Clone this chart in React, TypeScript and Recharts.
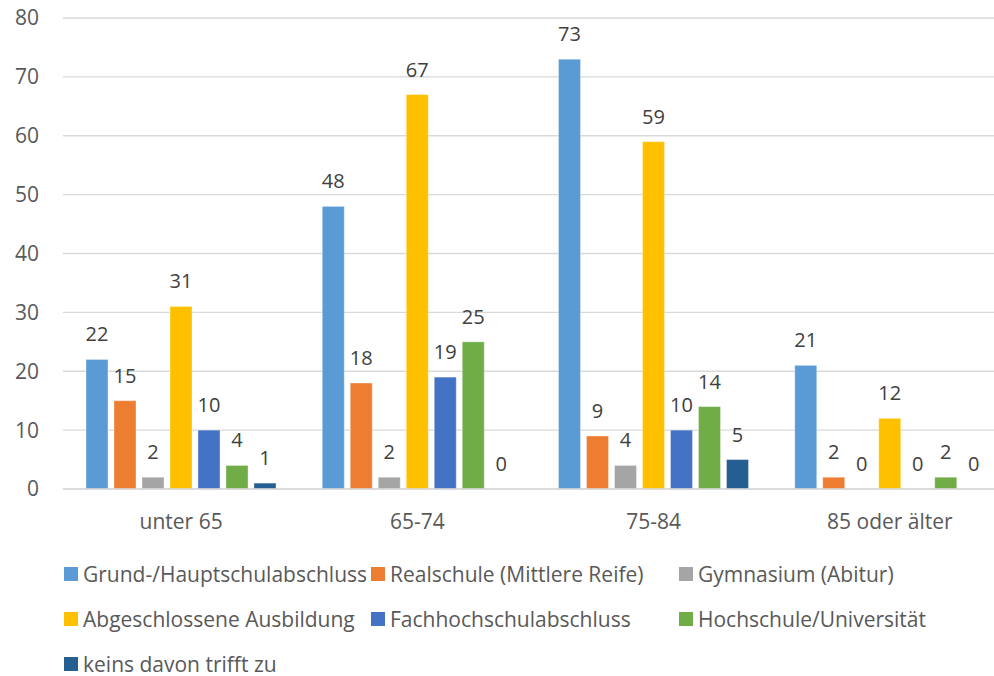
import React from "react";
import { BarChart, Bar, XAxis, YAxis, CartesianGrid } from "recharts";

const categories = ["unter 65", "65-74", "75-84", "85 oder älter"];
const seriesNames = [
  "Grund-/Hauptschulabschluss",
  "Realschule (Mittlere Reife)",
  "Gymnasium (Abitur)",
  "Abgeschlossene Ausbildung",
  "Fachhochschulabschluss",
  "Hochschule/Universität",
  "keins davon trifft zu",
];
const grund = [22, 48, 73, 21];
const real = [15, 18, 9, 2];
const gymnasium = [2, 2, 4, 0];
const ausbildung = [31, 67, 59, 12];
const fachhochschule = [10, 19, 10, 0];
const hochschule = [4, 25, 14, 2];
const keins = [1, 0, 5, 0];
const yTicks = [0, 10, 20, 30, 40, 50, 60, 70, 80];
const colors = ["#5B9BD5", "#ED7D31", "#A5A5A5", "#FFC000", "#4472C4", "#70AD47", "#255E91"];

const seriesValues = [grund, real, gymnasium, ausbildung, fachhochschule, hochschule, keins];
const keys = seriesNames.map((_, i) => "s" + i);
const data = categories.map((c, ci) => {
  const row: any = { name: c };
  seriesValues.forEach((vals, si) => (row[keys[si]] = vals[ci]));
  return row;
});

const FONT = "'Open Sans', 'Noto Sans', sans-serif";

const makeShape = (key: string, color: string) => (props: any) => {
  const { x, y, width, height, payload } = props;
  const value = payload ? payload[key] : props.value;
  const X = Number(x);
  const Y = Number(y);
  const W = Number(width);
  const H = Number(height) || 0;
  return (
    <g>
      {H > 0 && (
        <rect x={X} y={Y} width={W} height={H} fill={color} stroke="#ffffff" strokeOpacity={0.35} strokeWidth={1} />
      )}
      <text x={X + W / 2} y={Y - 18} textAnchor="middle" fontFamily={FONT} fontSize={20} fill="#404040">
        {value}
      </text>
    </g>
  );
};

export default function App() {
  return (
    <div
      style={{
        position: "absolute",
        left: 0,
        top: 0,
        width: 994,
        height: 676,
        overflow: "hidden",
        background: "#fff",
        fontFamily: FONT,
      }}
    >
      <BarChart
        width={1010}
        height={540}
        data={data}
        margin={{ top: 18, right: 2, bottom: 0, left: 0 }}
        barSize={22}
        barGap={6}
      >
        <CartesianGrid vertical={false} stroke="#D9D9D9" strokeWidth={1.3} />
        <XAxis
          dataKey="name"
          height={51}
          tickSize={0}
          tickMargin={25}
          axisLine={{ stroke: "#D9D9D9", strokeWidth: 1.3 }}
          tick={{ fill: "#595959", fontSize: 21, fontFamily: FONT }}
        />
        <YAxis
          width={63}
          domain={[0, 80]}
          ticks={yTicks}
          axisLine={false}
          tickSize={0}
          tickMargin={24}
          tick={{ fill: "#595959", fontSize: 21, fontFamily: FONT }}
        />
        {keys.map((k, i) => (
          <Bar key={k} dataKey={k} fill={colors[i]} isAnimationActive={false} shape={makeShape(k, colors[i])} />
        ))}
      </BarChart>
      <div
        style={{
          position: "absolute",
          left: 64,
          top: 551,
          display: "grid",
          gridTemplateColumns: "307px 308px 300px",
          rowGap: 0,
        }}
      >
        {seriesNames.map((n, i) => (
          <div key={n} style={{ display: "flex", alignItems: "center", height: 45, fontSize: 21, color: "#595959", whiteSpace: "nowrap" }}>
            <span style={{ display: "inline-block", width: 14, height: 14, background: colors[i], marginRight: 5 }} />
            <span>{n}</span>
          </div>
        ))}
      </div>
    </div>
  );
}
